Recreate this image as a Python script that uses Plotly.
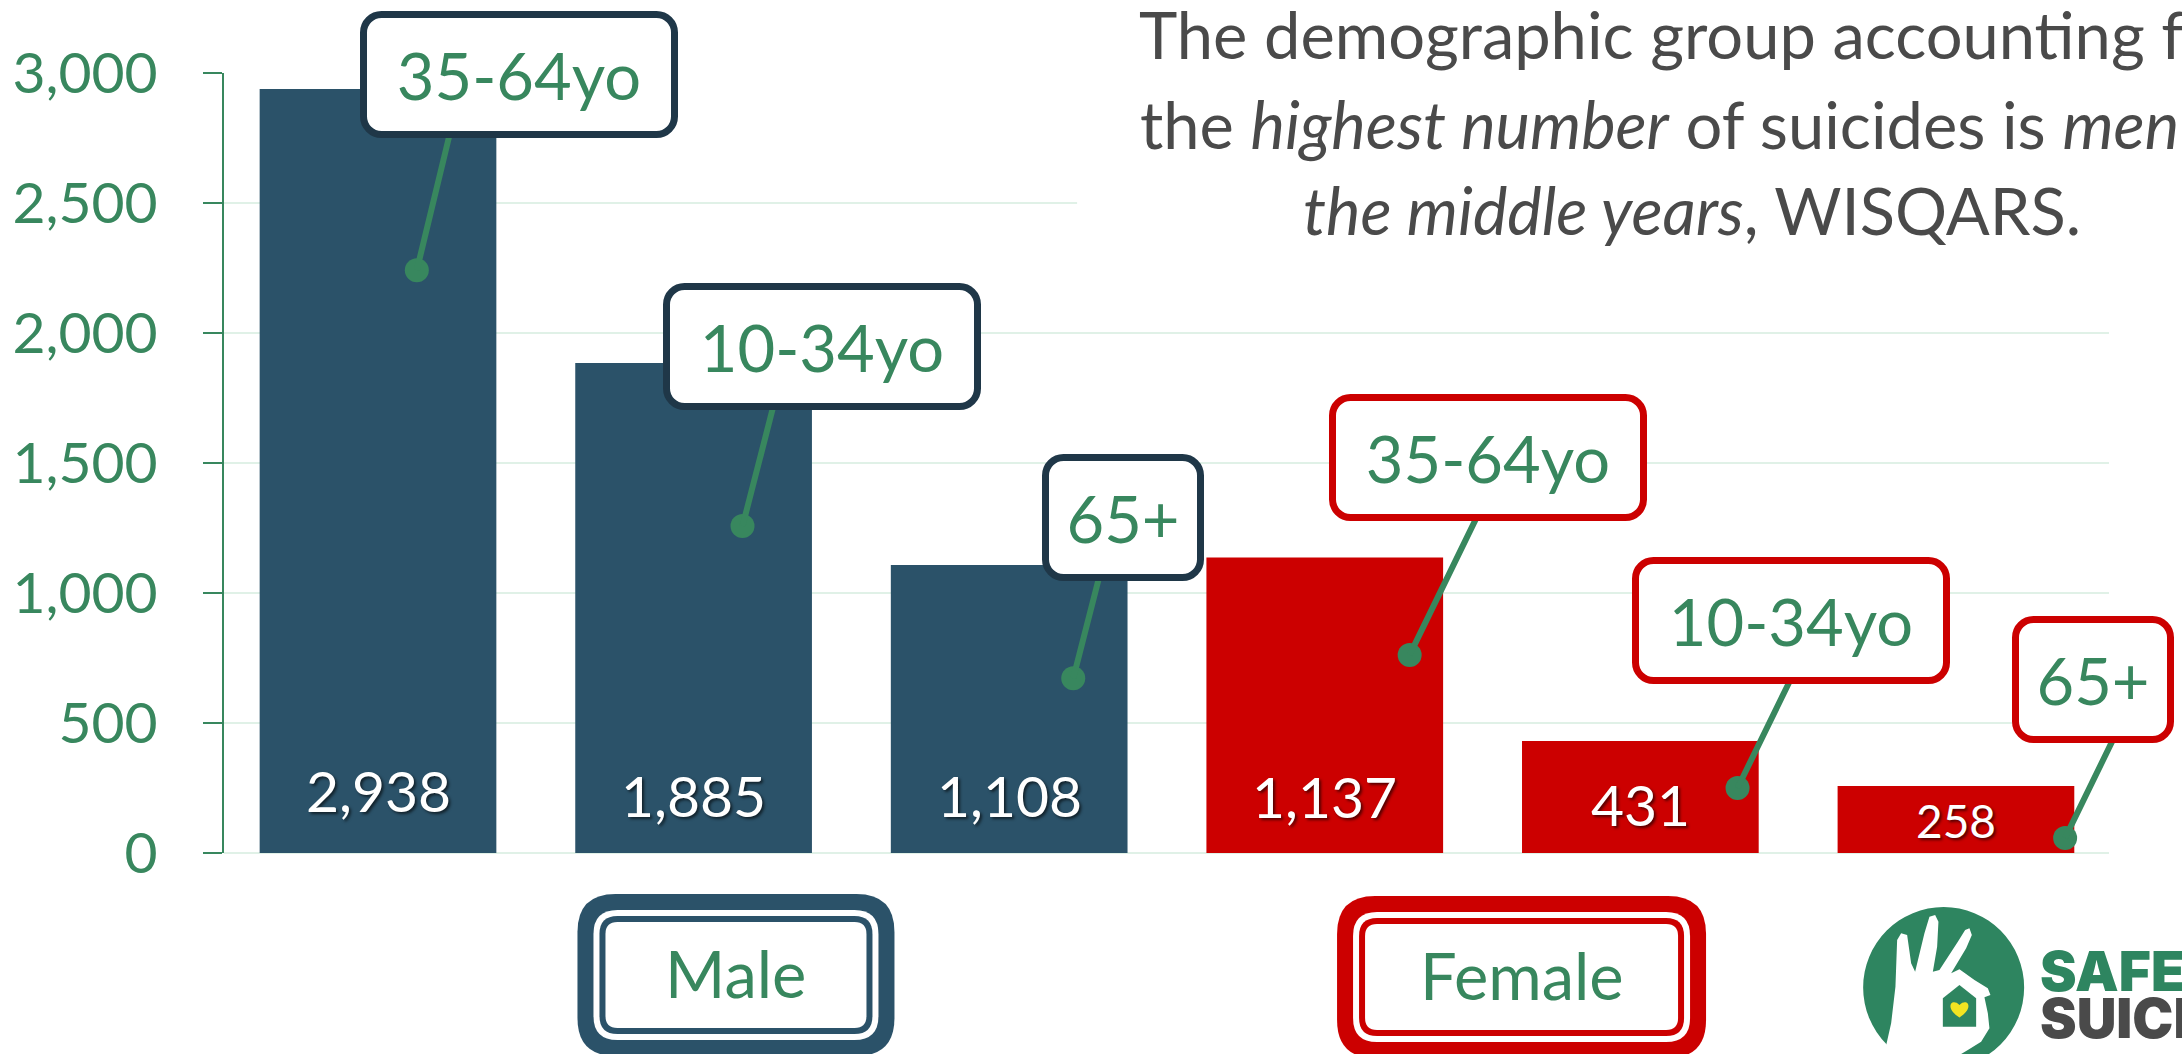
import plotly.graph_objects as go

# ---------------- data ----------------
categories = ["Male 35-64yo", "Male 10-34yo", "Male 65+",
              "Female 35-64yo", "Female 10-34yo", "Female 65+"]
sex = ["Male", "Male", "Male", "Female", "Female", "Female"]
age_groups = ["35-64yo", "10-34yo", "65+", "35-64yo", "10-34yo", "65+"]
suicides = [2938, 1885, 1108, 1137, 431, 258]
y_ticks = [0, 500, 1000, 1500, 2000, 2500, 3000]
sex_labels = ["Male", "Female"]
title_lines = ["The demographic group accounting for",
               "the <i>highest number</i> of suicides is <i>men in</i>",
               "<i>the middle years</i>, WISQARS."]

# ---------------- styles ----------------
GREEN = "#38875e"
NAVY_BAR = "#2b5269"
NAVY_BORDER = "#1f3748"
RED = "#cc0000"
GRID = "#e0f1e7"
TITLE_GRAY = "#4a4a4a"
LOGO_GREEN = "#2e8560"
YELLOW = "#f2e422"
FONT = "Lato, 'Open Sans', sans-serif"

bar_colors = {"Male": NAVY_BAR, "Female": RED}
border_colors = {"Male": NAVY_BORDER, "Female": RED}

W, H = 2182, 1054
ML, MR, MT, MB = 211, 73, 73, 201
PW, PH = W - ML - MR, H - MT - MB


def px_to_paper(px, py):
    return (px - ML) / PW, (H - MB - py) / PH


def rrect(w, h, r):
    x0, x1, y0, y1 = -w / 2, w / 2, -h / 2, h / 2
    return (f"M {x0+r},{y0} L {x1-r},{y0} Q {x1},{y0} {x1},{y0+r} "
            f"L {x1},{y1-r} Q {x1},{y1} {x1-r},{y1} L {x0+r},{y1} "
            f"Q {x0},{y1} {x0},{y1-r} L {x0},{y0+r} Q {x0},{y0} {x0+r},{y0} Z")


# callout layout (decoration positions, pixels / category units)
callout_dx = [0.123, 0.155, 0.203, 0.269, 0.308, 0.346]
callout_frac = [0.763, 0.667, 0.607, 0.670, 0.58, 0.225]
box_off = [(102, 196), (79, 180), (50, 161), (78, 197), (53, 168), (28, 158)]
line_end_x = [33, 31, 26, 67, 53, 48]
box_w = [318, 318, 162, 318, 318, 162]
box_h = 127
label_yshift = [63, 58, 58, 57, 49, 33]
label_size = [57, 57, 57, 57, 57, 46]

xpos = list(range(len(categories)))

fig = go.Figure()
fig.add_trace(go.Bar(
    x=xpos, y=suicides, customdata=categories,
    marker=dict(color=[bar_colors[s] for s in sex], line=dict(width=0)),
    hovertemplate="%{customdata}: %{y:,}<extra></extra>",
))

dot_x = [i + d for i, d in zip(xpos, callout_dx)]
dot_y = [v * f for v, f in zip(suicides, callout_frac)]
fig.add_trace(go.Scatter(
    x=dot_x, y=dot_y, mode="markers", cliponaxis=False,
    marker=dict(size=24, color=GREEN), hoverinfo="skip",
))

annotations = []
shapes = []

# connector lines
for i in range(len(categories)):
    bx, by = box_off[i]
    ly = by - box_h / 2 + 4
    annotations.append(dict(
        x=dot_x[i], y=dot_y[i], xref="x", yref="y", text="",
        showarrow=True, axref="pixel", ayref="pixel",
        ax=line_end_x[i], ay=-ly, arrowhead=0, arrowwidth=6,
        arrowcolor=GREEN, standoff=0, startstandoff=0,
    ))

# callout boxes
for i in range(len(categories)):
    bx, by = box_off[i]
    annotations.append(dict(
        x=dot_x[i], y=dot_y[i], xref="x", yref="y", text=age_groups[i],
        showarrow=False, xshift=bx, yshift=by, xanchor="center", yanchor="middle",
        font=dict(family=FONT, size=65, color=GREEN),
        bgcolor="white", bordercolor=border_colors[sex[i]], borderwidth=7,
        borderpad=0, width=box_w[i] - 14, height=box_h - 14,
    ))

# value labels
for i, v in enumerate(suicides):
    annotations.append(dict(
        x=xpos[i], y=0, xref="x", yref="y", text=f"{v:,}", showarrow=False,
        yanchor="middle", xanchor="center", yshift=label_yshift[i],
        font=dict(family=FONT, size=label_size[i], color="white",
                  shadow="2px 2px 3px rgba(0,0,0,0.6)"),
    ))

# title area: white backdrop and text lines
tx0, ty0 = px_to_paper(1070, 0)
tx1, ty1 = px_to_paper(W, 285)
shapes.append(dict(type="rect", xref="paper", yref="paper", x0=tx0, x1=tx1,
                   y0=ty1, y1=ty0, fillcolor="white", line=dict(width=0), layer="above"))
title_centers_py = [34, 124, 210]
for line, cy in zip(title_lines, title_centers_py):
    tcx, tcy = px_to_paper(1689, cy)
    annotations.append(dict(
        xref="paper", yref="paper", x=tcx, y=tcy, xanchor="center", yanchor="middle",
        align="center", showarrow=False, text=line,
        font=dict(family=FONT, size=65, color=TITLE_GRAY),
    ))

# Male / Female framed labels
frames = [("Male", 726.5, 975, 317, 162), ("Female", 1517.5, 977, 369, 162)]
for (lab, cx, cy, fw, fh) in frames:
    col = bar_colors[lab]
    ax_, ay_ = px_to_paper(cx, cy)
    layers = [(0, 38, col), (16, 24, "white"), (22, 18, col), (28, 12, "white")]
    for inset, rad, fc in layers:
        shapes.append(dict(
            type="path", xref="paper", yref="paper", xsizemode="pixel", ysizemode="pixel",
            xanchor=ax_, yanchor=ay_, path=rrect(fw - 2 * inset, fh - 2 * inset, rad),
            fillcolor=fc, line=dict(width=0), layer="above"))
    annotations.append(dict(
        xref="paper", yref="paper", x=ax_, y=ay_, text=lab, showarrow=False,
        xanchor="center", yanchor="middle", yshift=2,
        font=dict(family=FONT, size=65, color=GREEN)))

# logo
lx_, ly_ = px_to_paper(1942.5, 987.5)
shapes.append(dict(type="circle", xref="paper", yref="paper", xsizemode="pixel",
                   ysizemode="pixel", xanchor=lx_, yanchor=ly_, x0=-80.5, x1=80.5,
                   y0=-80.5, y1=80.5, fillcolor=LOGO_GREEN, line=dict(width=0), layer="above"))
hand_zoom = [(125, 540), (150, 430), (163, 320), (168, 180), (180, 160), (198, 165),
             (210, 250), (222, 275), (250, 160), (265, 110), (282, 105), (292, 125),
             (288, 200), (275, 275), (295, 270), (350, 185), (372, 150), (385, 145),
             (392, 165), (375, 205), (330, 280), (355, 268), (400, 300), (440, 325),
             (448, 345), (430, 352), (440, 400), (445, 445), (420, 485), (380, 510),
             (330, 540)]


def zpt(zx, zy):
    return zx / 3 - 102.5, 107.5 - zy / 3


hp = [zpt(*p) for p in hand_zoom]
hand_path = "M " + " L ".join(f"{x:.1f},{y:.1f}" for x, y in hp) + " Z"
shapes.append(dict(type="path", xref="paper", yref="paper", xsizemode="pixel",
                   ysizemode="pixel", xanchor=lx_, yanchor=ly_, path=hand_path,
                   fillcolor="white", line=dict(width=0), layer="above"))
house = [zpt(305, 440), zpt(305, 355), zpt(355, 315), zpt(405, 355), zpt(405, 440)]
house_path = "M " + " L ".join(f"{x:.1f},{y:.1f}" for x, y in house) + " Z"
shapes.append(dict(type="path", xref="paper", yref="paper", xsizemode="pixel",
                   ysizemode="pixel", xanchor=lx_, yanchor=ly_, path=house_path,
                   fillcolor=LOGO_GREEN, line=dict(width=0), layer="above"))
hx, hy = zpt(355, 387)
s = 9
heart = (f"M {hx},{hy-s*0.95} C {hx-s*1.7},{hy+s*0.1} {hx-s*0.9},{hy+s*1.3} {hx},{hy+s*0.45} "
         f"C {hx+s*0.9},{hy+s*1.3} {hx+s*1.7},{hy+s*0.1} {hx},{hy-s*0.95} Z")
shapes.append(dict(type="path", xref="paper", yref="paper", xsizemode="pixel",
                   ysizemode="pixel", xanchor=lx_, yanchor=ly_, path=heart,
                   fillcolor=YELLOW, line=dict(width=0), layer="above"))
sx, sy = px_to_paper(2038, 971)
annotations.append(dict(xref="paper", yref="paper", x=sx, y=sy, xanchor="left",
                        yanchor="middle", showarrow=False, text="SAFER HOMES",
                        font=dict(family="Inter, Lato, sans-serif", size=55,
                                  color=LOGO_GREEN, weight=900)))
sx2, sy2 = px_to_paper(2038, 1018)
annotations.append(dict(xref="paper", yref="paper", x=sx2, y=sy2, xanchor="left",
                        yanchor="middle", showarrow=False, text="SUICIDE AWARE",
                        font=dict(family="Inter, Lato, sans-serif", size=55,
                                  color=TITLE_GRAY, weight=900)))

fig.update_layout(
    width=W, height=H, margin=dict(l=ML, r=MR, t=MT, b=MB, pad=0),
    plot_bgcolor="white", paper_bgcolor="white", showlegend=False,
    bargap=0.25, annotations=annotations, shapes=shapes,
    font=dict(family=FONT),
    xaxis=dict(range=[-0.488, 5.485], showticklabels=False, showgrid=False,
               zeroline=False, showline=False, fixedrange=True),
    yaxis=dict(range=[0, 3000], tickvals=y_ticks, tickformat=",",
               tickfont=dict(family=FONT, size=57, color=GREEN),
               showline=True, linecolor=GREEN, linewidth=2,
               ticks="outside", ticklen=19, tickwidth=2, tickcolor=GREEN,
               ticklabelstandoff=34,
               showgrid=True, gridcolor=GRID, gridwidth=2,
               zeroline=True, zerolinecolor=GRID, zerolinewidth=2, fixedrange=True),
)

post = """
document.body.style.margin='0';
document.body.style.overflow='hidden';
document.querySelectorAll('g.annotation rect.bg').forEach(function(r){
  r.setAttribute('rx', 18); r.setAttribute('ry', 18);
});
"""
fig.write_html("out.html", post_script=post, config={"displayModeBar": False})
